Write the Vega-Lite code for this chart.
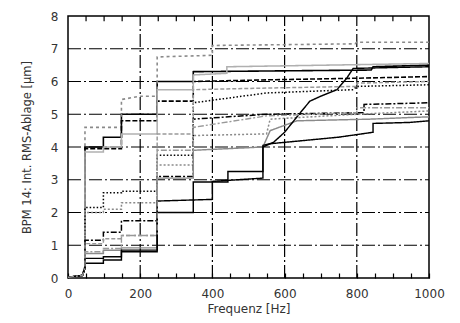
{
  "$schema": "https://vega.github.io/schema/vega-lite/v6.json",
  "width": 361,
  "height": 262,
  "autosize": "none",
  "padding": {"left": 68, "top": 16, "right": 31, "bottom": 45},
  "background": "white",
  "config": {
    "view": {"stroke": "black", "strokeWidth": 1.5},
    "font": "DejaVu Sans",
    "axis": {"grid": false}
  },
  "datasets": {
    "curves": [
      {"s": "s1", "i": 0, "f": 0, "v": 0.02}, {"s": "s1", "i": 1, "f": 40, "v": 0.08}, {"s": "s1", "i": 2, "f": 47, "v": 0.35}, {"s": "s1", "i": 3, "f": 47, "v": 4.0}, {"s": "s1", "i": 4, "f": 98, "v": 4.0}, {"s": "s1", "i": 5, "f": 98, "v": 4.3}, {"s": "s1", "i": 6, "f": 148, "v": 4.3}, {"s": "s1", "i": 7, "f": 148, "v": 5.0}, {"s": "s1", "i": 8, "f": 247, "v": 5.0}, {"s": "s1", "i": 9, "f": 247, "v": 6.0}, {"s": "s1", "i": 10, "f": 347, "v": 6.0}, {"s": "s1", "i": 11, "f": 347, "v": 6.3}, {"s": "s1", "i": 12, "f": 840, "v": 6.35}, {"s": "s1", "i": 13, "f": 845, "v": 6.45}, {"s": "s1", "i": 14, "f": 1000, "v": 6.5},

      {"s": "s2", "i": 0, "f": 0, "v": 0.02}, {"s": "s2", "i": 1, "f": 40, "v": 0.08}, {"s": "s2", "i": 2, "f": 47, "v": 0.35}, {"s": "s2", "i": 3, "f": 47, "v": 4.6}, {"s": "s2", "i": 4, "f": 148, "v": 4.6}, {"s": "s2", "i": 5, "f": 148, "v": 5.45}, {"s": "s2", "i": 6, "f": 200, "v": 5.55}, {"s": "s2", "i": 7, "f": 247, "v": 5.55}, {"s": "s2", "i": 8, "f": 247, "v": 6.75}, {"s": "s2", "i": 9, "f": 400, "v": 6.8}, {"s": "s2", "i": 10, "f": 400, "v": 7.1}, {"s": "s2", "i": 11, "f": 795, "v": 7.15}, {"s": "s2", "i": 12, "f": 800, "v": 7.2}, {"s": "s2", "i": 13, "f": 1000, "v": 7.2},

      {"s": "s3", "i": 0, "f": 0, "v": 0.02}, {"s": "s3", "i": 1, "f": 40, "v": 0.08}, {"s": "s3", "i": 2, "f": 47, "v": 0.3}, {"s": "s3", "i": 3, "f": 47, "v": 3.95}, {"s": "s3", "i": 4, "f": 148, "v": 3.95}, {"s": "s3", "i": 5, "f": 148, "v": 4.8}, {"s": "s3", "i": 6, "f": 247, "v": 4.8}, {"s": "s3", "i": 7, "f": 247, "v": 5.4}, {"s": "s3", "i": 8, "f": 347, "v": 5.4}, {"s": "s3", "i": 9, "f": 347, "v": 6.0}, {"s": "s3", "i": 10, "f": 550, "v": 6.05}, {"s": "s3", "i": 11, "f": 800, "v": 6.1}, {"s": "s3", "i": 12, "f": 1000, "v": 6.15},

      {"s": "s4", "i": 0, "f": 0, "v": 0.02}, {"s": "s4", "i": 1, "f": 40, "v": 0.08}, {"s": "s4", "i": 2, "f": 47, "v": 0.3}, {"s": "s4", "i": 3, "f": 47, "v": 3.85}, {"s": "s4", "i": 4, "f": 98, "v": 3.85}, {"s": "s4", "i": 5, "f": 98, "v": 4.0}, {"s": "s4", "i": 6, "f": 148, "v": 4.0}, {"s": "s4", "i": 7, "f": 148, "v": 4.4}, {"s": "s4", "i": 8, "f": 247, "v": 4.4}, {"s": "s4", "i": 9, "f": 247, "v": 5.75}, {"s": "s4", "i": 10, "f": 347, "v": 5.75}, {"s": "s4", "i": 11, "f": 347, "v": 6.2}, {"s": "s4", "i": 12, "f": 440, "v": 6.25}, {"s": "s4", "i": 13, "f": 440, "v": 6.45}, {"s": "s4", "i": 14, "f": 1000, "v": 6.55},

      {"s": "s5", "i": 0, "f": 0, "v": 0.02}, {"s": "s5", "i": 1, "f": 40, "v": 0.08}, {"s": "s5", "i": 2, "f": 47, "v": 0.3}, {"s": "s5", "i": 3, "f": 47, "v": 2.15}, {"s": "s5", "i": 4, "f": 98, "v": 2.15}, {"s": "s5", "i": 5, "f": 98, "v": 2.6}, {"s": "s5", "i": 6, "f": 148, "v": 2.6}, {"s": "s5", "i": 7, "f": 148, "v": 2.65}, {"s": "s5", "i": 8, "f": 247, "v": 2.65}, {"s": "s5", "i": 9, "f": 247, "v": 3.75}, {"s": "s5", "i": 10, "f": 347, "v": 3.75}, {"s": "s5", "i": 11, "f": 347, "v": 5.35}, {"s": "s5", "i": 12, "f": 550, "v": 5.65}, {"s": "s5", "i": 13, "f": 790, "v": 5.75}, {"s": "s5", "i": 14, "f": 800, "v": 5.85}, {"s": "s5", "i": 15, "f": 1000, "v": 5.9},

      {"s": "s6", "i": 0, "f": 0, "v": 0.02}, {"s": "s6", "i": 1, "f": 40, "v": 0.08}, {"s": "s6", "i": 2, "f": 47, "v": 0.3}, {"s": "s6", "i": 3, "f": 47, "v": 2.0}, {"s": "s6", "i": 4, "f": 98, "v": 2.0}, {"s": "s6", "i": 5, "f": 98, "v": 2.1}, {"s": "s6", "i": 6, "f": 148, "v": 2.1}, {"s": "s6", "i": 7, "f": 148, "v": 2.3}, {"s": "s6", "i": 8, "f": 247, "v": 2.3}, {"s": "s6", "i": 9, "f": 247, "v": 3.45}, {"s": "s6", "i": 10, "f": 347, "v": 3.45}, {"s": "s6", "i": 11, "f": 347, "v": 4.35}, {"s": "s6", "i": 12, "f": 550, "v": 4.4}, {"s": "s6", "i": 13, "f": 560, "v": 4.85}, {"s": "s6", "i": 14, "f": 800, "v": 5.0}, {"s": "s6", "i": 15, "f": 1000, "v": 5.1},

      {"s": "s7", "i": 0, "f": 0, "v": 0.02}, {"s": "s7", "i": 1, "f": 40, "v": 0.08}, {"s": "s7", "i": 2, "f": 47, "v": 0.3}, {"s": "s7", "i": 3, "f": 47, "v": 1.15}, {"s": "s7", "i": 4, "f": 98, "v": 1.15}, {"s": "s7", "i": 5, "f": 98, "v": 1.4}, {"s": "s7", "i": 6, "f": 148, "v": 1.4}, {"s": "s7", "i": 7, "f": 148, "v": 1.75}, {"s": "s7", "i": 8, "f": 247, "v": 1.75}, {"s": "s7", "i": 9, "f": 247, "v": 3.1}, {"s": "s7", "i": 10, "f": 347, "v": 3.1}, {"s": "s7", "i": 11, "f": 347, "v": 4.85}, {"s": "s7", "i": 12, "f": 550, "v": 5.0}, {"s": "s7", "i": 13, "f": 820, "v": 5.05}, {"s": "s7", "i": 14, "f": 820, "v": 5.3}, {"s": "s7", "i": 15, "f": 1000, "v": 5.35},

      {"s": "s8", "i": 0, "f": 0, "v": 0.02}, {"s": "s8", "i": 1, "f": 40, "v": 0.08}, {"s": "s8", "i": 2, "f": 47, "v": 0.3}, {"s": "s8", "i": 3, "f": 47, "v": 1.05}, {"s": "s8", "i": 4, "f": 98, "v": 1.05}, {"s": "s8", "i": 5, "f": 98, "v": 1.2}, {"s": "s8", "i": 6, "f": 148, "v": 1.2}, {"s": "s8", "i": 7, "f": 148, "v": 1.3}, {"s": "s8", "i": 8, "f": 247, "v": 1.3}, {"s": "s8", "i": 9, "f": 247, "v": 4.4}, {"s": "s8", "i": 10, "f": 347, "v": 4.4}, {"s": "s8", "i": 11, "f": 347, "v": 5.75}, {"s": "s8", "i": 12, "f": 550, "v": 5.8}, {"s": "s8", "i": 13, "f": 800, "v": 5.85}, {"s": "s8", "i": 14, "f": 800, "v": 5.95}, {"s": "s8", "i": 15, "f": 1000, "v": 6.0},

      {"s": "s9", "i": 0, "f": 0, "v": 0.02}, {"s": "s9", "i": 1, "f": 40, "v": 0.08}, {"s": "s9", "i": 2, "f": 47, "v": 0.3}, {"s": "s9", "i": 3, "f": 47, "v": 0.75}, {"s": "s9", "i": 4, "f": 98, "v": 0.75}, {"s": "s9", "i": 5, "f": 98, "v": 0.85}, {"s": "s9", "i": 6, "f": 148, "v": 0.85}, {"s": "s9", "i": 7, "f": 148, "v": 0.92}, {"s": "s9", "i": 8, "f": 247, "v": 0.92}, {"s": "s9", "i": 9, "f": 247, "v": 3.05}, {"s": "s9", "i": 10, "f": 347, "v": 3.05}, {"s": "s9", "i": 11, "f": 347, "v": 3.9}, {"s": "s9", "i": 12, "f": 540, "v": 4.0}, {"s": "s9", "i": 13, "f": 560, "v": 4.5}, {"s": "s9", "i": 14, "f": 634, "v": 4.8}, {"s": "s9", "i": 15, "f": 836, "v": 4.85}, {"s": "s9", "i": 16, "f": 947, "v": 4.9}, {"s": "s9", "i": 17, "f": 1000, "v": 4.92},

      {"s": "s10", "i": 0, "f": 0, "v": 0.02}, {"s": "s10", "i": 1, "f": 40, "v": 0.08}, {"s": "s10", "i": 2, "f": 47, "v": 0.3}, {"s": "s10", "i": 3, "f": 47, "v": 0.45}, {"s": "s10", "i": 4, "f": 98, "v": 0.45}, {"s": "s10", "i": 5, "f": 98, "v": 0.55}, {"s": "s10", "i": 6, "f": 148, "v": 0.55}, {"s": "s10", "i": 7, "f": 148, "v": 0.8}, {"s": "s10", "i": 8, "f": 247, "v": 0.8}, {"s": "s10", "i": 9, "f": 247, "v": 2.0}, {"s": "s10", "i": 10, "f": 347, "v": 2.0}, {"s": "s10", "i": 11, "f": 347, "v": 2.93}, {"s": "s10", "i": 12, "f": 443, "v": 2.93}, {"s": "s10", "i": 13, "f": 443, "v": 3.25}, {"s": "s10", "i": 14, "f": 540, "v": 3.25}, {"s": "s10", "i": 15, "f": 540, "v": 4.05}, {"s": "s10", "i": 16, "f": 560, "v": 4.1}, {"s": "s10", "i": 17, "f": 750, "v": 4.3}, {"s": "s10", "i": 18, "f": 845, "v": 4.45}, {"s": "s10", "i": 19, "f": 845, "v": 4.72}, {"s": "s10", "i": 20, "f": 947, "v": 4.75}, {"s": "s10", "i": 21, "f": 1000, "v": 4.8},

      {"s": "s11", "i": 0, "f": 0, "v": 0.02}, {"s": "s11", "i": 1, "f": 40, "v": 0.08}, {"s": "s11", "i": 2, "f": 47, "v": 0.3}, {"s": "s11", "i": 3, "f": 47, "v": 0.6}, {"s": "s11", "i": 4, "f": 98, "v": 0.6}, {"s": "s11", "i": 5, "f": 98, "v": 0.65}, {"s": "s11", "i": 6, "f": 148, "v": 0.65}, {"s": "s11", "i": 7, "f": 148, "v": 0.85}, {"s": "s11", "i": 8, "f": 247, "v": 0.85}, {"s": "s11", "i": 9, "f": 247, "v": 2.35}, {"s": "s11", "i": 10, "f": 400, "v": 2.4}, {"s": "s11", "i": 11, "f": 400, "v": 2.95}, {"s": "s11", "i": 12, "f": 540, "v": 3.05}, {"s": "s11", "i": 13, "f": 540, "v": 4.0}, {"s": "s11", "i": 14, "f": 570, "v": 4.15}, {"s": "s11", "i": 15, "f": 600, "v": 4.45}, {"s": "s11", "i": 16, "f": 640, "v": 5.0}, {"s": "s11", "i": 17, "f": 670, "v": 5.4}, {"s": "s11", "i": 18, "f": 700, "v": 5.55}, {"s": "s11", "i": 19, "f": 745, "v": 5.75}, {"s": "s11", "i": 20, "f": 772, "v": 6.1}, {"s": "s11", "i": 21, "f": 790, "v": 6.4}, {"s": "s11", "i": 22, "f": 1000, "v": 6.45},

      {"s": "s12", "i": 0, "f": 0, "v": 0.02}, {"s": "s12", "i": 1, "f": 40, "v": 0.08}, {"s": "s12", "i": 2, "f": 47, "v": 0.3}, {"s": "s12", "i": 3, "f": 47, "v": 0.8}, {"s": "s12", "i": 4, "f": 98, "v": 0.8}, {"s": "s12", "i": 5, "f": 98, "v": 0.9}, {"s": "s12", "i": 6, "f": 148, "v": 0.9}, {"s": "s12", "i": 7, "f": 148, "v": 1.3}, {"s": "s12", "i": 8, "f": 247, "v": 1.3}, {"s": "s12", "i": 9, "f": 247, "v": 3.9}, {"s": "s12", "i": 10, "f": 347, "v": 3.9}, {"s": "s12", "i": 11, "f": 347, "v": 4.6}, {"s": "s12", "i": 12, "f": 550, "v": 4.95}, {"s": "s12", "i": 13, "f": 800, "v": 5.05}, {"s": "s12", "i": 14, "f": 800, "v": 5.2}, {"s": "s12", "i": 15, "f": 1000, "v": 5.2}
    ],
    "rules": [
      {"k": "grid", "f": 200, "f2": 200, "v": 0, "v2": 8},
      {"k": "grid", "f": 400, "f2": 400, "v": 0, "v2": 8},
      {"k": "grid", "f": 600, "f2": 600, "v": 0, "v2": 8},
      {"k": "grid", "f": 800, "f2": 800, "v": 0, "v2": 8},
      {"k": "grid", "f": 0, "f2": 1000, "v": 1, "v2": 1},
      {"k": "grid", "f": 0, "f2": 1000, "v": 2, "v2": 2},
      {"k": "grid", "f": 0, "f2": 1000, "v": 3, "v2": 3},
      {"k": "grid", "f": 0, "f2": 1000, "v": 4, "v2": 4},
      {"k": "grid", "f": 0, "f2": 1000, "v": 5, "v2": 5},
      {"k": "grid", "f": 0, "f2": 1000, "v": 6, "v2": 6},
      {"k": "grid", "f": 0, "f2": 1000, "v": 7, "v2": 7},
      {"k": "tick", "f": 50, "f2": 50, "v": 8, "v2": 7.84},
      {"k": "tick", "f": 100, "f2": 100, "v": 8, "v2": 7.84},
      {"k": "tick", "f": 150, "f2": 150, "v": 8, "v2": 7.84},
      {"k": "tick", "f": 250, "f2": 250, "v": 8, "v2": 7.84},
      {"k": "tick", "f": 300, "f2": 300, "v": 8, "v2": 7.84},
      {"k": "tick", "f": 350, "f2": 350, "v": 8, "v2": 7.84},
      {"k": "tick", "f": 450, "f2": 450, "v": 8, "v2": 7.84},
      {"k": "tick", "f": 500, "f2": 500, "v": 8, "v2": 7.84},
      {"k": "tick", "f": 550, "f2": 550, "v": 8, "v2": 7.84},
      {"k": "tick", "f": 650, "f2": 650, "v": 8, "v2": 7.84},
      {"k": "tick", "f": 700, "f2": 700, "v": 8, "v2": 7.84},
      {"k": "tick", "f": 750, "f2": 750, "v": 8, "v2": 7.84},
      {"k": "tick", "f": 850, "f2": 850, "v": 8, "v2": 7.84},
      {"k": "tick", "f": 900, "f2": 900, "v": 8, "v2": 7.84},
      {"k": "tick", "f": 950, "f2": 950, "v": 8, "v2": 7.84}
    ]
  },
  "encoding": {
    "x": {
      "field": "f",
      "type": "quantitative",
      "scale": {"domain": [0, 1000], "nice": false, "zero": false},
      "axis": {
        "orient": "bottom",
        "values": [0, 50, 100, 150, 200, 250, 300, 350, 400, 450, 500, 550, 600, 650, 700, 750, 800, 850, 900, 950, 1000],
        "format": "d",
        "labelExpr": "datum.value % 200 === 0 ? datum.label : ''",
        "labelOverlap": false,
        "labelFlush": false,
        "labelFontSize": 12,
        "labelColor": "#333",
        "labelPadding": 15,
        "tickSize": -5,
        "tickColor": "black",
        "tickWidth": 1.2,
        "domain": false,
        "grid": false,
        "title": "Frequenz [Hz]",
        "titleFontSize": 12,
        "titleFontWeight": "normal",
        "titleColor": "#333",
        "titlePadding": 4
      }
    },
    "y": {
      "field": "v",
      "type": "quantitative",
      "scale": {"domain": [0, 8], "nice": false},
      "axis": {
        "values": [0, 1, 2, 3, 4, 5, 6, 7, 8],
        "labelFontSize": 12,
        "labelColor": "#333",
        "labelPadding": 10,
        "tickSize": 0,
        "domain": false,
        "grid": false,
        "title": "BPM 14: Int. RMS-Ablage [µm]",
        "titleFontSize": 11.5,
        "titleFontWeight": "normal",
        "titleColor": "#333",
        "titlePadding": 18
      }
    }
  },
  "layer": [
    {
      "data": {"name": "rules"},
      "mark": {"type": "rule", "color": "black", "strokeWidth": 1.2},
      "encoding": {
        "x2": {"field": "f2"},
        "y2": {"field": "v2"},
        "strokeDash": {
          "field": "k",
          "type": "nominal",
          "scale": {"domain": ["grid", "tick"], "range": [[13, 3, 2, 3], [1, 0]]},
          "legend": null
        }
      }
    },
    {
      "data": {"name": "curves"},
      "mark": {"type": "line", "clip": true},
      "encoding": {
        "color": {
          "field": "s",
          "type": "nominal",
          "scale": {
            "domain": ["s1", "s2", "s3", "s4", "s5", "s6", "s7", "s8", "s9", "s10", "s11", "s12"],
            "range": ["#000000", "#8a8a8a", "#000000", "#b0b0b0", "#000000", "#8a8a8a", "#000000", "#999999", "#8a8a8a", "#000000", "#000000", "#999999"]
          },
          "legend": null
        },
        "strokeDash": {
          "field": "s",
          "type": "nominal",
          "scale": {
            "domain": ["s1", "s2", "s3", "s4", "s5", "s6", "s7", "s8", "s9", "s10", "s11", "s12"],
            "range": [[1, 0], [3, 3], [5, 2], [1, 0], [1.5, 2], [2, 2], [6, 2, 2, 2], [4, 2], [1, 0], [1, 0], [1, 0], [6, 2, 2, 2]]
          },
          "legend": null
        },
        "strokeWidth": {
          "field": "s",
          "type": "nominal",
          "scale": {
            "domain": ["s1", "s2", "s3", "s4", "s5", "s6", "s7", "s8", "s9", "s10", "s11", "s12"],
            "range": [1.6, 1.4, 1.1, 2.2, 1.2, 1.3, 1.1, 1.4, 1.5, 1.5, 1.3, 1.3]
          },
          "legend": null
        },
        "order": {"field": "i", "type": "quantitative"}
      }
    }
  ],
  "resolve": {"scale": {"strokeDash": "independent"}}
}
